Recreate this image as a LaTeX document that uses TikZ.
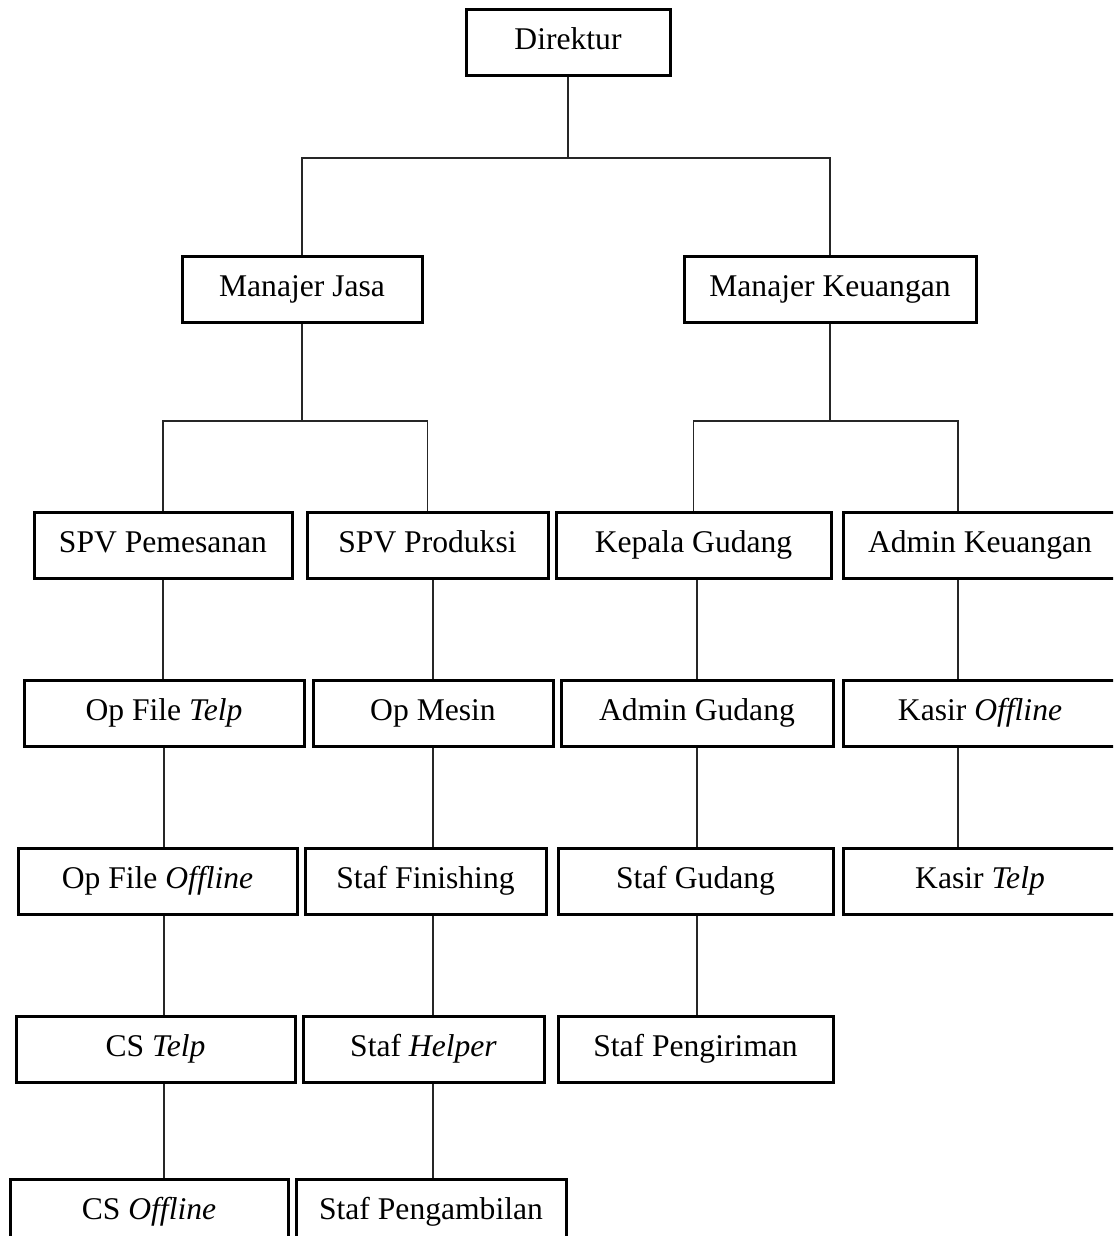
\documentclass[tikz,border=0pt]{standalone}
\usepackage{fontspec}
\setmainfont{Liberation Serif}
\newcommand\orgfont{\fontsize{15.8pt}{19pt}\selectfont}
\begin{document}
\begin{tikzpicture}[x=0.5pt,y=-0.5pt,
  unit/.style={draw=black, line width=1.5pt, minimum height=33pt,
    inner sep=0pt, font=\orgfont, fill=white,
    text height=11pt, text depth=4pt},
  link/.style={draw=black!85, line width=0.75pt}]
\useasboundingbox (0,0) rectangle (1113,1236);
\clip (0,0) rectangle (1113,1236);

% top level
\node[unit, minimum width=102pt] (dir) at (568,43) {Direktur};
\node[unit, minimum width=120pt] (mj) at (302,289) {Manajer Jasa};
\node[unit, minimum width=146pt] (mk) at (830,289) {Manajer Keuangan};

% supervisors / heads
\node[unit, minimum width=129pt]   (spvp) at (163,545)   {SPV Pemesanan};
\node[unit, minimum width=120.5pt] (spvr) at (427.5,545) {SPV Produksi};
\node[unit, minimum width=137.5pt] (kg)   at (693.5,545) {Kepala Gudang};
\node[unit, minimum width=137pt]   (ak)   at (980,545)   {Admin Keuangan};

% second row
\node[unit, minimum width=140pt]   (opft) at (164,713)   {Op File \textit{Telp}};
\node[unit, minimum width=120pt]   (opm)  at (433,713)   {Op Mesin};
\node[unit, minimum width=136pt]   (ag)   at (697,713)   {Admin Gudang};
\node[unit, minimum width=137pt]   (kso)  at (980,713)   {Kasir \textit{Offline}};

% third row
\node[unit, minimum width=139.5pt] (opfo) at (157.5,881) {Op File \textit{Offline}};
\node[unit, minimum width=120.5pt] (sf)   at (425.5,881) {Staf Finishing};
\node[unit, minimum width=137.5pt] (sg)   at (695.5,881) {Staf Gudang};
\node[unit, minimum width=137pt]   (kt)   at (980,881)   {Kasir \textit{Telp}};

% fourth row
\node[unit, minimum width=139.5pt] (cst)  at (155.5,1049) {CS \textit{Telp}};
\node[unit, minimum width=120.5pt] (sh)   at (423.5,1049) {Staf \textit{Helper}};
\node[unit, minimum width=137.5pt] (sp)   at (695.5,1049) {Staf Pengiriman};

% fifth row
\node[unit, minimum width=139pt]   (cso)  at (149,1212)  {CS \textit{Offline}};
\node[unit, minimum width=135pt]   (spg)  at (431,1212)  {Staf Pengambilan};

% bus levels and offset drop line
\coordinate (bus1) at (0,158);
\coordinate (bus2) at (0,421);
\coordinate (akx)  at (958,0);

% Direktur to managers
\draw[link] (dir.south) -- (dir.south |- bus1);
\draw[link] (mj.north) -- (mj.north |- bus1) -- (mk.north |- bus1) -- (mk.north);

% Manajer Jasa to supervisors
\draw[link] (mj.south) -- (mj.south |- bus2);
\draw[link] (spvp.north) -- (spvp.north |- bus2) -- (spvr.north |- bus2) -- (spvr.north);

% Manajer Keuangan to heads
\draw[link] (mk.south) -- (mk.south |- bus2);
\draw[link] (kg.north) -- (kg.north |- bus2) -- (akx |- bus2) -- (akx |- ak.north);

% Pemesanan column
\draw[link] (spvp.south) -- (spvp.south |- opft.north);
\draw[link] (opft.south) -- (opft.south |- opfo.north);
\draw[link] (opfo.south -| opft.south) -- (opft.south |- cst.north);
\draw[link] (cst.south -| opft.south) -- (opft.south |- cso.north);

% Produksi column
\draw[link] (spvr.south -| opm.north) -- (opm.north);
\draw[link] (opm.south) -- (opm.south |- sf.north);
\draw[link] (sf.south -| opm.south) -- (opm.south |- sh.north);
\draw[link] (sh.south -| opm.south) -- (opm.south |- spg.north);

% Gudang column
\draw[link] (kg.south -| ag.north) -- (ag.north);
\draw[link] (ag.south) -- (ag.south |- sg.north);
\draw[link] (sg.south -| ag.south) -- (ag.south |- sp.north);

% Keuangan column
\draw[link] (akx |- ak.south) -- (akx |- kso.north);
\draw[link] (akx |- kso.south) -- (akx |- kt.north);
\end{tikzpicture}
\end{document}
